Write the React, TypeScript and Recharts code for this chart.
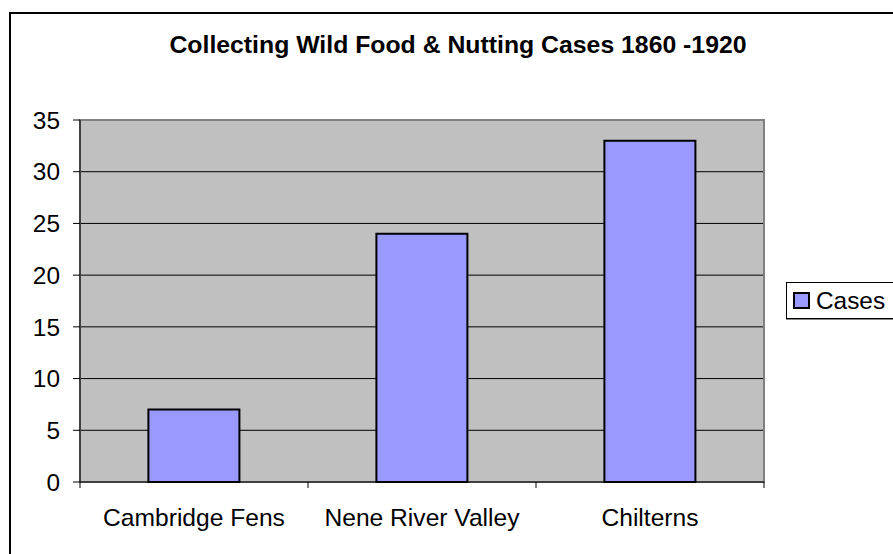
import React from 'react'
import {
	Bar,
	BarChart,
	CartesianGrid,
	Legend,
	ReferenceArea,
	XAxis,
	YAxis,
} from 'recharts'

const regions = ['Cambridge Fens', 'Nene River Valley', 'Chilterns']
const cases = [7, 24, 33]
const yTicks = [0, 5, 10, 15, 20, 25, 30, 35]

const data = regions.map((name, i) => ({ name, Cases: cases[i] }))

const FONT = '"Liberation Sans", Arial, sans-serif'

const RegionTick = (props: any) => {
	const { x, y, payload, index } = props
	const half = payload?.offset ?? 0
	const top = y - 8
	return (
		<g>
			<line x1={x - half} x2={x - half} y1={top} y2={top + 6} stroke="#000" />
			{index === regions.length - 1 && (
				<line x1={x + half} x2={x + half} y1={top} y2={top + 6} stroke="#000" />
			)}
			<text x={x} y={y} dy={36} textAnchor="middle" fill="#000" fontSize={24.6} fontFamily={FONT}>
				{payload.value}
			</text>
		</g>
	)
}

const LegendBox = ({ payload }: any) => (
	<div
		style={{
			width: 120,
			height: 37,
			boxSizing: 'border-box',
			border: '1px solid #000',
			borderRight: 'none',
			boxShadow: '0 1px 0 #888',
			background: '#fff',
			display: 'flex',
			alignItems: 'center',
			fontFamily: FONT,
			fontSize: 24.4,
			color: '#000',
		}}
	>
		{(payload || []).map((p: any) => (
			<div key={p.value} style={{ display: 'flex', alignItems: 'center' }}>
				<span
					style={{
						display: 'inline-block',
						width: 17,
						height: 17,
						boxSizing: 'border-box',
						border: '2px solid #000',
						background: p.color,
						marginLeft: 6,
						marginRight: 6,
					}}
				/>
				<span>{p.value}</span>
			</div>
		))}
	</div>
)

export default function App() {
	return (
		<div
			style={{
				position: 'absolute',
				left: 0,
				top: 0,
				width: 893,
				height: 554,
				overflow: 'hidden',
				background: '#fff',
			}}
		>
			<div
				style={{
					position: 'absolute',
					left: 9,
					top: 12,
					width: 1000,
					height: 1000,
					border: '2px solid #000',
				}}
			/>
			<div
				style={{
					position: 'absolute',
					left: 158,
					top: 33,
					width: 600,
					textAlign: 'center',
					fontFamily: FONT,
					fontWeight: 'bold',
					fontSize: 24.8,
					lineHeight: '24px',
					color: '#000',
				}}
			>
				Collecting Wild Food &amp; Nutting Cases 1860 -1920
			</div>
			<div style={{ position: 'absolute', left: 0, top: 0 }}>
				<BarChart
					width={893}
					height={554}
					data={data}
					margin={{ top: 120, right: 129, bottom: 22, left: 0 }}
					barCategoryGap="30%"
				>
					<CartesianGrid
						fill="#C0C0C0"
						fillOpacity={1}
						stroke="#000"
						vertical={false}
					/>
					<ReferenceArea y1={0} y2={35} fill="none" stroke="#808080" strokeWidth={2} />
					<XAxis
						dataKey="name"
						height={50}
						axisLine={{ stroke: '#000' }}
						tickLine={false}
						tickSize={6}
						tickMargin={2}
						tick={<RegionTick />}
						interval={0}
					/>
					<YAxis
						width={80}
						domain={[0, 35]}
						ticks={yTicks}
						axisLine={{ stroke: '#000' }}
						tickLine={{ stroke: '#000' }}
						tickSize={7}
						tickMargin={13}
						tick={{ fill: '#000', fontSize: 24.4, fontFamily: FONT }}
					/>
					<Legend
						layout="horizontal"
						verticalAlign="middle"
						content={<LegendBox />}
						wrapperStyle={{ left: 786, top: 282, width: 120 }}
					/>
					<Bar
						dataKey="Cases"
						fill="#9999FF"
						stroke="#000"
						strokeWidth={2}
						isAnimationActive={false}
					/>
				</BarChart>
			</div>
		</div>
	)
}
